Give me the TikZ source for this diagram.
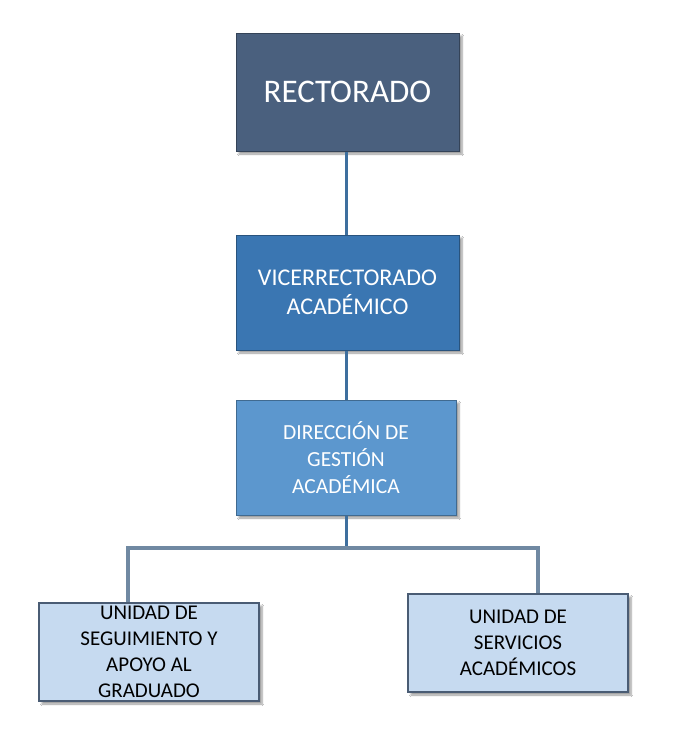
\documentclass[tikz,border=0pt]{standalone}
\usepackage{fontspec}
\setmainfont{Carlito}
\usetikzlibrary{shadows.blur}
\definecolor{rect}{HTML}{4A607E}
\definecolor{vice}{HTML}{3A76B2}
\definecolor{dir}{HTML}{5C97CE}
\definecolor{unit}{HTML}{C6DAF0}
\definecolor{unitborder}{HTML}{4A5C74}
\definecolor{vline}{HTML}{3E6F9E}
\definecolor{hline}{HTML}{7089A2}
\tikzset{
  x=1pt, y=-1pt,
  box/.style={draw=#1!70!black, line width=1pt, inner sep=0pt, align=center,
    blur shadow={shadow blur steps=6, shadow xshift=3pt, shadow yshift=-3pt, shadow opacity=40}},
  topbox/.style={box=rect, fill=rect, text=white, minimum width=223pt, minimum height=118pt, font=\fontsize{33}{38}\selectfont},
  vicebox/.style={box=vice, fill=vice, text=white, minimum width=223pt, minimum height=115pt, font=\fontsize{24}{29}\selectfont},
  dirbox/.style={box=dir, fill=dir, text=white, minimum width=220pt, minimum height=115pt, font=\fontsize{21.5}{27}\selectfont},
  unitbox/.style={draw=unitborder, line width=1.2pt, fill=unit, text=black, inner sep=0pt, align=center,
    minimum width=220pt, minimum height=98pt, font=\fontsize{21}{26}\selectfont,
    blur shadow={shadow blur steps=6, shadow xshift=3pt, shadow yshift=-3pt, shadow opacity=40}},
  vconn/.style={draw=vline, line width=3pt},
  hconn/.style={draw=hline, line width=4pt},
}
\begin{document}
\begin{tikzpicture}
\useasboundingbox[fill=white] (0,0) rectangle (677,731);
\node[topbox] (rect) at (347.5,92) {RECTORADO};
\node[vicebox] (vice) at (347.5,292.5) {VICERRECTORADO\\ACADÉMICO};
\node[dirbox] (dir) at (346,457.5) {DIRECCIÓN DE\\GESTIÓN\\ACADÉMICA};
\node[unitbox] (usg) at (149,652) {UNIDAD DE\\SEGUIMIENTO Y\\APOYO AL\\GRADUADO};
\node[unitbox] (usa) at (518,643) {UNIDAD DE\\SERVICIOS\\ACADÉMICOS};
\coordinate (j) at (346,548);
\coordinate (jl) at (128,548);
\coordinate (jr) at (538,548);
\draw[vconn] (rect.south -| j) -- (vice.north -| j);
\draw[vconn] (vice.south -| j) -- (dir.north -| j);
\draw[vconn] (dir.south -| j) -- (j);
\draw[hconn] (usg.north -| jl) -- (jl) -- (jr) -- (usa.north -| jr);
\end{tikzpicture}
\end{document}
